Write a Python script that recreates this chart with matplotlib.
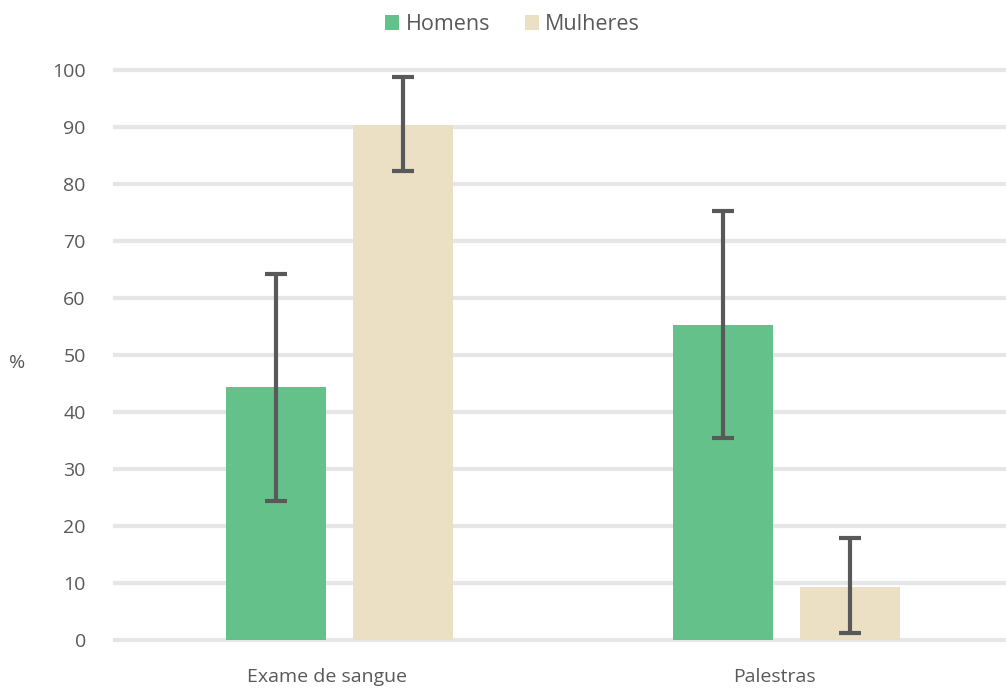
import matplotlib
matplotlib.use("Agg")
import matplotlib.pyplot as plt
import matplotlib.transforms as mtransforms
import numpy as np

categories = ["Exame de sangue", "Palestras"]
series = ["Homens", "Mulheres"]
homens = [44.3, 55.3]
homens_err_low = [24.3, 35.4]
homens_err_high = [64.2, 75.3]
mulheres = [90.3, 9.3]
mulheres_err_low = [82.2, 1.3]
mulheres_err_high = [98.7, 17.9]
yticks = [0, 10, 20, 30, 40, 50, 60, 70, 80, 90, 100]

plt.rcParams['font.family'] = ['Open Sans', 'DejaVu Sans']
txt = '#595959'

fig = plt.figure(figsize=(10.06, 6.90), dpi=100)
ax = fig.add_axes([115/1006, 50/690, 891/1006, 570/690])

x = np.arange(len(categories))
w = 0.224
off = 0.142
colors = ['#64c18a', '#ebe0c4']
vals = [homens, mulheres]
lows = [homens_err_low, mulheres_err_low]
highs = [homens_err_high, mulheres_err_high]
for i, (s, v, lo, hi, c) in enumerate(zip(series, vals, lows, highs, colors)):
    pos = x + (-off if i == 0 else off)
    ax.bar(pos, v, width=w, color=c, label=s, zorder=2)
    v = np.array(v); lo = np.array(lo); hi = np.array(hi)
    ax.errorbar(pos, v, yerr=[v - lo, hi - v], fmt='none', ecolor='#595959',
                elinewidth=3, capsize=8, capthick=3, zorder=3)

ax.set_xlim(-0.502, 1.491)
ax.set_ylim(0, 100)
ax.set_yticks(yticks)
ax.set_xticks(x)
ax.set_xticklabels(categories)
ax.grid(axis='y', color='#e6e6e6', linewidth=3, zorder=0)
for ln in ax.get_ygridlines():
    ln.set_clip_on(False)
for sp in ax.spines.values():
    sp.set_visible(False)
ax.tick_params(axis='both', length=0, labelsize=14, labelcolor=txt)
ax.tick_params(axis='y', pad=21)
ax.tick_params(axis='x', pad=20)
shift = mtransforms.ScaledTranslation(-12/100, 0, fig.dpi_scale_trans)
for lab in ax.get_xticklabels():
    lab.set_transform(lab.get_transform() + shift)
ax.set_ylabel('%', rotation=0, fontsize=14, color=txt, labelpad=0)
ax.yaxis.set_label_coords(-115/891 + 17/891, 0.47)

leg = ax.legend(loc='upper center', bbox_to_anchor=(0.5 - (115/2)/891 + 0.011, 1.132), ncol=2, frameon=False,
                fontsize=15.5, handlelength=0.65, handleheight=0.65, columnspacing=1.6,
                handletextpad=0.3, labelcolor=txt)

fig.savefig('out.png', dpi=100, facecolor='white')
